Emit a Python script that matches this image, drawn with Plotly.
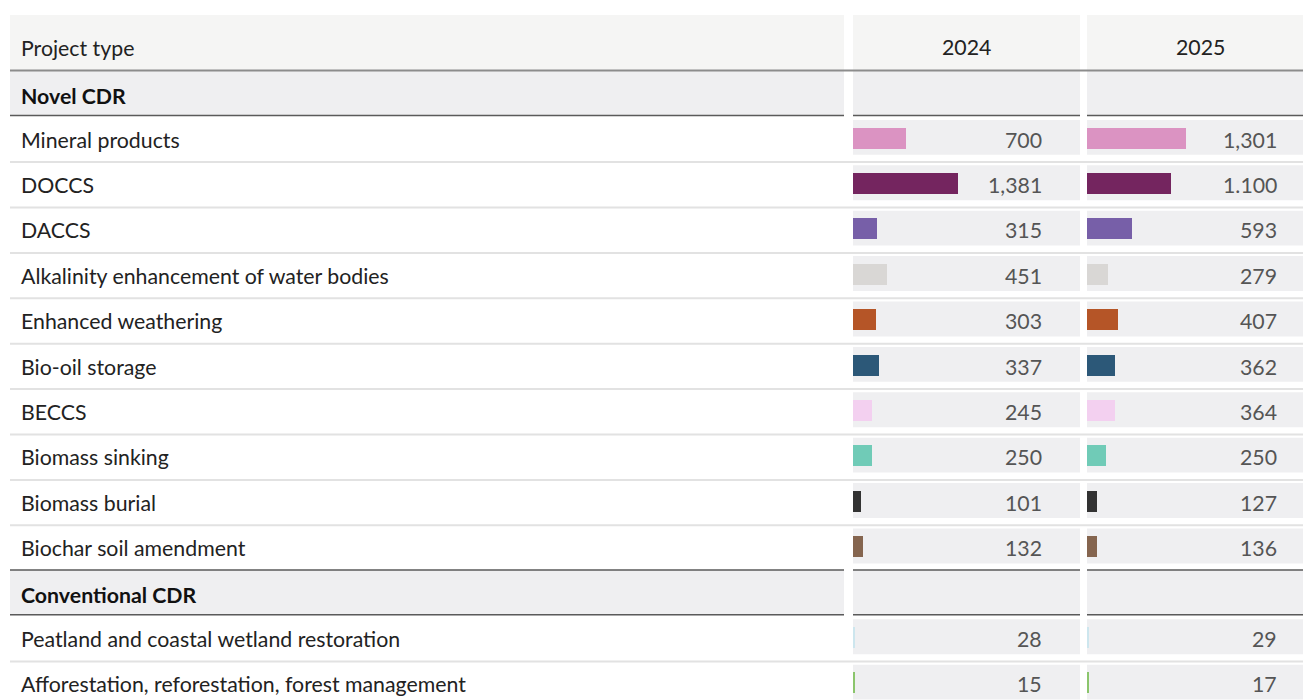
import plotly.graph_objects as go

# ---------------- data ----------------
header_label = "Project type"
years = ["2024", "2025"]
groups = ["Novel CDR", "Conventional CDR"]

novel_types = [
    "Mineral products",
    "DOCCS",
    "DACCS",
    "Alkalinity enhancement of water bodies",
    "Enhanced weathering",
    "Bio-oil storage",
    "BECCS",
    "Biomass sinking",
    "Biomass burial",
    "Biochar soil amendment",
]
conventional_types = [
    "Peatland and coastal wetland restoration",
    "Afforestation, reforestation, forest management",
]

novel_2024 = [700, 1381, 315, 451, 303, 337, 245, 250, 101, 132]
novel_2025 = [1301, 1100, 593, 279, 407, 362, 364, 250, 127, 136]
conventional_2024 = [28, 15]
conventional_2025 = [29, 17]

novel_text_2024 = ["700", "1,381", "315", "451", "303", "337", "245", "250", "101", "132"]
novel_text_2025 = ["1,301", "1.100", "593", "279", "407", "362", "364", "250", "127", "136"]
conventional_text_2024 = ["28", "15"]
conventional_text_2025 = ["29", "17"]

novel_colors = ["#db93c2", "#74255f", "#775fa8", "#d9d7d5", "#b55527",
                "#2c5878", "#f3d0f0", "#70cbb7", "#333333", "#85654f"]
conventional_colors = ["#cde6ee", "#8bc56c"]

# ---------------- layout helpers ----------------
W, H = 1303, 700
FONT = "Lato, Roboto, sans-serif"
FS = 21.3
TOP = 70.5          # bottom of header (px)
P = 45.4            # row pitch (px)
LEFT = (10, 844)
COLS = [(853, 1080), (1087, 1314)]
PX_PER_UNIT = 227 / 2980.0


def xp(x):
    return x / W


def yp(y):
    return 1 - y / H


rows = [("group", groups[0], None, None, None, None, None)]
for i, t in enumerate(novel_types):
    rows.append(("item", t, novel_2024[i], novel_2025[i], novel_text_2024[i], novel_text_2025[i], novel_colors[i]))
rows.append(("group", groups[1], None, None, None, None, None))
for i, t in enumerate(conventional_types):
    rows.append(("item", t, conventional_2024[i], conventional_2025[i],
                 conventional_text_2024[i], conventional_text_2025[i], conventional_colors[i]))

categories = [r[1] for r in rows]
n_visible = (H - TOP) / P

fig = go.Figure()

items = [r for r in rows if r[0] == "item"]
bar_w = 21 / P
bar_off = -bar_w / 2 - 1.1 / P
for k, axis in enumerate(["x2", "x3"]):
    fig.add_trace(go.Bar(
        y=[r[1] for r in items],
        x=[r[2 + k] for r in items],
        orientation="h",
        marker=dict(color=[r[6] for r in items], line=dict(width=0)),
        width=bar_w,
        offset=bar_off,
        xaxis=axis,
        yaxis="y",
        hoverinfo="skip",
        showlegend=False,
    ))

shapes = []
annotations = []


def rect(x0, x1, y0, y1, color):
    shapes.append(dict(type="rect", xref="paper", yref="paper",
                       x0=xp(x0), x1=xp(x1), y0=yp(y1), y1=yp(y0),
                       fillcolor=color, line=dict(width=0), layer="below"))


def hline(x0, x1, y, color, width):
    shapes.append(dict(type="line", xref="paper", yref="paper",
                       x0=xp(x0), x1=xp(x1), y0=yp(y), y1=yp(y),
                       line=dict(color=color, width=width), layer="above"))


# header
rect(LEFT[0], LEFT[1], 15, TOP, "#f5f5f4")
for c in COLS:
    rect(c[0], c[1], 15, TOP, "#f5f5f4")
annotations.append(dict(text=header_label, xref="paper", yref="paper", x=xp(19), y=yp(48),
                        xanchor="left", yanchor="middle", showarrow=False,
                        font=dict(family=FONT, size=FS, color="#222222")))
for c, yr in zip(COLS, years):
    annotations.append(dict(text=yr, xref="paper", yref="paper", x=xp((c[0] + c[1]) / 2), y=yp(47.5),
                            xanchor="center", yanchor="middle", showarrow=False,
                            font=dict(family=FONT, size=FS, color="#222222")))

for i, r in enumerate(rows):
    top = TOP + i * P
    bot = top + P
    if r[0] == "group":
        rect(LEFT[0], LEFT[1], top, bot, "#efeff1")
        for c in COLS:
            rect(c[0], c[1], top, bot, "#efeff1")
        if i > 0:
            for seg in [LEFT] + COLS:
                hline(seg[0], seg[1], top, "#5a5a5a", 1.5)
        for seg in [LEFT] + COLS:
            hline(seg[0], seg[1], bot - 0.5, "#5a5a5a", 1.5)
        annotations.append(dict(text="<b>" + r[1] + "</b>", xref="paper", yref="y", x=xp(19), y=r[1],
                                xanchor="left", yanchor="middle", showarrow=False, yshift=-2.5,
                                font=dict(family=FONT, size=FS, color="#111111")))
    else:
        for c in COLS:
            rect(c[0], c[1], top + 4, bot - 6.5, "#efeff1")
        nxt = rows[i + 1][0] if i + 1 < len(rows) else "item"
        if nxt == "item":
            hline(LEFT[0], W, bot + 0.8, "#e2e2e2", 2)
        annotations.append(dict(text=r[1], xref="paper", yref="y", x=xp(19), y=r[1],
                                xanchor="left", yanchor="middle", showarrow=False, yshift=-1,
                                font=dict(family=FONT, size=FS, color="#222222")))
        for k, right in enumerate([1043.5, 1278.5]):
            annotations.append(dict(text=r[4 + k], xref="paper", yref="y", x=xp(right), y=r[1],
                                    xanchor="right", yanchor="middle", showarrow=False, yshift=-1,
                                    font=dict(family=FONT, size=FS, color="#555555")))

# header bottom line (continuous)
hline(LEFT[0], W, TOP, "#8c8c8c", 2)

axis_off = dict(showgrid=False, zeroline=False, showticklabels=False, ticks="", showline=False, fixedrange=True)
fig.update_layout(
    width=W, height=H,
    margin=dict(l=0, r=0, t=0, b=0),
    paper_bgcolor="white",
    plot_bgcolor="rgba(0,0,0,0)",
    bargap=0,
    shapes=shapes,
    annotations=annotations,
    yaxis=dict(type="category", categoryarray=categories, categoryorder="array",
               domain=[0, yp(TOP)], range=[-0.5 + n_visible, -0.5], anchor="x2", **axis_off),
    xaxis2=dict(domain=[xp(COLS[0][0]), xp(COLS[0][1])],
                range=[0, (COLS[0][1] - COLS[0][0]) / PX_PER_UNIT], anchor="y", **axis_off),
    xaxis3=dict(domain=[xp(COLS[1][0]), 1.0],
                range=[0, (W - COLS[1][0]) / PX_PER_UNIT], anchor="y", **axis_off),
)

fig.write_html("out.html")
